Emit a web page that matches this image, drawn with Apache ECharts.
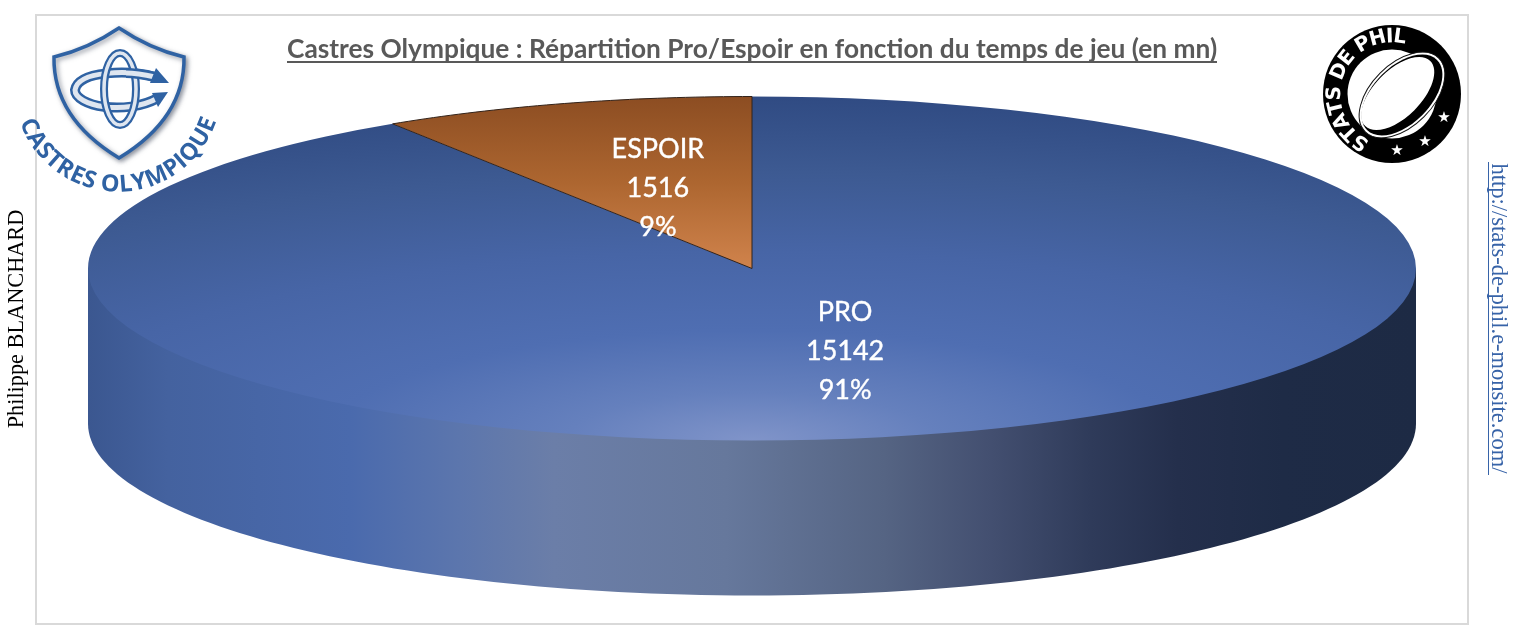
<!DOCTYPE html>
<html>
<head>
<meta charset="utf-8">
<title>Castres Olympique</title>
<script src="https://cdn.jsdelivr.net/npm/echarts@6/dist/echarts.min.js"></script>
<style>
html, body { margin: 0; padding: 0; background: #fff; }
#main { width: 1518px; height: 644px; }
</style>
</head>
<body>
<div id="main"></div>
<script>
// valeurs (temps de jeu en mn)
var categories = ['PRO', 'ESPOIR']
var minutes = [15142, 1516]
var titleText = 'Castres Olympique : Répartition Pro/Espoir en fonction du temps de jeu (en mn)'
var authorText = 'Philippe BLANCHARD'
var linkText = 'http://stats-de-phil.e-monsite.com/'

var total = minutes.reduce(function (a, b) { return a + b }, 0)

// geometrie du camembert
var cx = 752
var cy = 268.5
var rx = 664
var ry = 172
var depth = 155
var TOP = -Math.PI / 2

var measureCtx = document.createElement('canvas').getContext('2d')

// lettres une par une le long d'un arc
function arcText(str, ox, oy, r, startDeg, dir, font, color, spacing, shadow) {
  measureCtx.font = font
  var out = []
  var a = startDeg * Math.PI / 180
  for (var i = 0; i < str.length; i++) {
    var w = measureCtx.measureText(str[i]).width + spacing
    var mid = a + dir * (w / 2) / r
    var style = { text: str[i], font: font, fill: color, align: 'center', verticalAlign: 'middle' }
    if (shadow) {
      style.shadowBlur = 3
      style.shadowColor = shadow
      style.shadowOffsetX = 1
      style.shadowOffsetY = 1
    }
    out.push({
      type: 'text',
      x: ox + Math.cos(mid) * r,
      y: oy + Math.sin(mid) * r,
      rotation: dir > 0 ? -mid - Math.PI / 2 : -mid + Math.PI / 2,
      style: style
    })
    a += dir * w / r
  }
  return out
}

function sliceAngles(index) {
  var before = 0
  for (var i = 0; i < index; i++) before += minutes[i]
  return [before / total * Math.PI * 2, (before + minutes[index]) / total * Math.PI * 2]
}

function sliceFill(index) {
  if (categories[index] === 'ESPOIR') {
    return {
      type: 'linear', global: true, x: 0, y: -rx, x2: 0, y2: 0,
      colorStops: [
        { offset: 0, color: '#8c4d22' },
        { offset: 0.5, color: '#ad6630' },
        { offset: 1, color: '#d0834c' }
      ]
    }
  }
  return {
    type: 'radial', global: true, x: 0, y: rx, r: rx * 2,
    colorStops: [
      { offset: 0, color: '#8094c9' },
      { offset: 0.14, color: '#6580bd' },
      { offset: 0.32, color: '#4f6eb2' },
      { offset: 0.55, color: '#4765a6' },
      { offset: 0.78, color: '#3d5a92' },
      { offset: 1, color: '#304b83' }
    ]
  }
}

var wallFill = {
  type: 'linear', x: 0, y: 0, x2: 1, y2: 0,
  colorStops: [
    { offset: 0, color: '#3b5790' },
    { offset: 0.06, color: '#44629f' },
    { offset: 0.197, color: '#4a6aad' },
    { offset: 0.28, color: '#5c76ad' },
    { offset: 0.351, color: '#6b7ea8' },
    { offset: 0.48, color: '#66789c' },
    { offset: 0.6, color: '#556483' },
    { offset: 0.68, color: '#434f70' },
    { offset: 0.755, color: '#2f3b5a' },
    { offset: 0.82, color: '#242f4c' },
    { offset: 0.9, color: '#1e2b46' },
    { offset: 1, color: '#1d2a44' }
  ]
}

function renderSlice(params, api) {
  var i = params.dataIndex
  var value = api.value(0)
  var ang = sliceAngles(i)
  var children = []
  var covered = ang[0] < Math.PI && ang[1] > Math.PI

  // flanc visible seulement si la part passe devant
  if (covered) {
    children.push({ type: 'ellipse', shape: { cx: cx, cy: cy + depth, rx: rx, ry: ry }, style: { fill: wallFill } })
    children.push({ type: 'rect', shape: { x: cx - rx, y: cy, width: rx * 2, height: depth }, style: { fill: wallFill } })
  }

  children.push({
    type: 'group', x: cx, y: cy, scaleY: ry / rx,
    children: [{
      type: 'sector',
      shape: { cx: 0, cy: 0, r0: 0, r: rx, startAngle: TOP + ang[0], endAngle: TOP + ang[1], clockwise: true },
      style: { fill: sliceFill(i) }
    }]
  })

  if (categories[i] === 'ESPOIR') {
    var pts = [[cx, cy]]
    for (var k = 0; k <= 40; k++) {
      var t = ang[0] + (ang[1] - ang[0]) * k / 40
      pts.push([cx + Math.sin(t) * rx, cy - Math.cos(t) * ry])
    }
    pts.push([cx, cy])
    children.push({ type: 'polyline', shape: { points: pts }, style: { fill: null, stroke: '#33231a', lineWidth: 1 } })
  }

  // etiquette a mi-rayon sur l'angle median
  var midA = (ang[0] + ang[1]) / 2
  var lx = cx + Math.sin(midA) * rx * 0.5 - 0.5
  var ly = cy - Math.cos(midA) * ry * 0.494 + 1
  var lines = [categories[i], String(value), Math.round(value / total * 100) + '%']
  lines.forEach(function (s, n) {
    children.push({
      type: 'text', x: lx, y: ly + (n - 1) * 39, z2: 10,
      style: { text: s, font: '27px Lato', fill: '#ffffff', stroke: '#ffffff', lineWidth: 0.4, align: 'center', verticalAlign: 'middle' }
    })
  })
  return { type: 'group', children: children }
}

function bandPath(pathData, blue) {
  return [
    { type: 'path', shape: { pathData: pathData }, style: { fill: null, stroke: blue, lineWidth: 10 } },
    { type: 'path', shape: { pathData: pathData }, style: { fill: null, stroke: '#dfe6f0', lineWidth: 5 } }
  ]
}

function renderCastresLogo() {
  var blue = '#2f62a3'
  var shield = {
    type: 'path',
    shape: { pathData: 'M119 28 Q88 49 54 57 Q53 118 119 158 Q185 118 184 57 Q150 49 119 28 Z' },
    style: { fill: '#ffffff', stroke: blue, lineWidth: 3.5, shadowBlur: 5, shadowColor: 'rgba(60,70,90,0.55)', shadowOffsetX: 2, shadowOffsetY: 2 }
  }
  var swirl = bandPath('M155 77 C130 70 78 70 75 90 C75 106 125 116 158 98', blue)
  var swirlOver = bandPath('M155 77 C146 75 136 73 126 73', blue)
  var arrowTop = { type: 'polygon', shape: { points: [[156, 68], [169, 83], [150, 83]] }, style: { fill: blue } }
  var arrowLow = { type: 'polygon', shape: { points: [[168, 92], [158, 107], [152, 93]] }, style: { fill: blue } }
  var oval = [
    { type: 'ellipse', shape: { cx: 120, cy: 89, rx: 16, ry: 36 }, style: { fill: null, stroke: blue, lineWidth: 8 } },
    { type: 'ellipse', shape: { cx: 120, cy: 89, rx: 16, ry: 36 }, style: { fill: null, stroke: '#dfe6f0', lineWidth: 3.5 } }
  ]
  var letters = arcText('CASTRES OLYMPIQUE', 118, 88, 97, 161, -1, 'bold 23.5px "Open Sans"', blue, -0.3, 'rgba(60,70,90,0.5)')
  return {
    type: 'group',
    children: [shield].concat(swirl, oval, swirlOver, [arrowTop, arrowLow], letters)
  }
}

function renderStatsLogo() {
  var ox = 1392
  var oy = 94
  var stars = [[1397, 151], [1425, 142], [1444, 118]].map(function (p) {
    return { type: 'text', x: p[0], y: p[1], style: { text: '★', font: '15px "DejaVu Sans"', fill: '#ffffff', align: 'center', verticalAlign: 'middle' } }
  })
  var letters = arcText('STATS DE PHIL', ox, oy, 57, 116, 1, 'bold 20px "DejaVu Sans"', '#ffffff', 0)
  return {
    type: 'group',
    children: [
      { type: 'circle', shape: { cx: ox, cy: oy, r: 69 }, style: { fill: '#000000' } },
      { type: 'circle', shape: { cx: ox, cy: oy, r: 44.5 }, style: { fill: '#ffffff' } },
      {
        type: 'group', x: 1402, y: 95, rotation: Math.PI / 4,
        children: [
          { type: 'ellipse', shape: { cx: 0, cy: 0, rx: 52, ry: 31 }, style: { fill: '#ffffff', stroke: '#111111', lineWidth: 1 } },
          { type: 'ellipse', shape: { cx: 0, cy: 0, rx: 49.5, ry: 28.5 }, style: { fill: '#000000' } },
          { type: 'ellipse', shape: { cx: -2, cy: -4, rx: 46, ry: 23.5 }, style: { fill: '#ffffff' } }
        ]
      }
    ].concat(letters, stars)
  }
}

var chart = echarts.init(document.getElementById('main'))
var option = {
  animation: false,
  backgroundColor: '#ffffff',
  title: {
    text: titleText,
    left: 287,
    top: 36.5,
    padding: 0,
    textStyle: { fontFamily: 'Lato', fontWeight: 'bold', fontSize: 26.3, color: '#595959' }
  },
  graphic: {
    elements: [
      { type: 'rect', z: -1, shape: { x: 36, y: 15, width: 1432, height: 609 }, style: { fill: '#ffffff', stroke: '#d9d9d9', lineWidth: 2 } },
      { type: 'rect', shape: { x: 287, y: 61, width: 930, height: 2 }, style: { fill: '#595959' } },
      {
        type: 'text', x: 17, y: 319, rotation: Math.PI / 2,
        style: { text: authorText, font: '22.3px "Liberation Serif"', fill: '#000000', align: 'center', verticalAlign: 'middle' }
      },
      {
        type: 'text', x: 1498, y: 318.5, rotation: -Math.PI / 2,
        style: { text: linkText, font: '22.5px "Liberation Serif"', fill: '#3763a8', align: 'center', verticalAlign: 'middle' }
      },
      { type: 'rect', shape: { x: 1488, y: 162, width: 1, height: 313 }, style: { fill: '#3763a8' } }
    ]
  },
  series: [
    {
      type: 'custom',
      coordinateSystem: 'none',
      silent: true,
      data: minutes.map(function (v) { return [v] }),
      renderItem: renderSlice
    },
    {
      type: 'custom',
      coordinateSystem: 'none',
      silent: true,
      data: [[0]],
      renderItem: renderCastresLogo
    },
    {
      type: 'custom',
      coordinateSystem: 'none',
      silent: true,
      data: [[0]],
      renderItem: renderStatsLogo
    }
  ]
}
chart.setOption(option)
</script>
</body>
</html>
